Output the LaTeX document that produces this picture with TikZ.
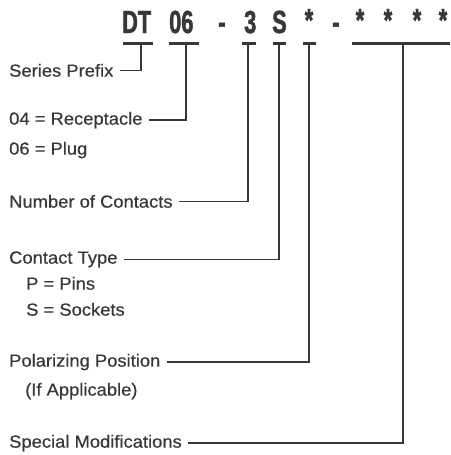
\documentclass[tikz,border=0pt]{standalone}
\usepackage{fontspec}
\setmainfont{Liberation Sans}
\newfontfamily\codefont{Liberation Sans}[FakeStretch=0.68,FakeBold=1.4]
\newfontfamily\lblfont{Liberation Sans}[FakeStretch=1.05,FakeBold=0.4]
\definecolor{inkgray}{RGB}{55,55,55}

\begin{document}
\begin{tikzpicture}[x=1pt,y=-1pt,
    ink/.style={draw=inkgray,line width=1.7pt},
    bar/.style={draw=inkgray,line width=3pt},
    code/.style={text=inkgray,inner sep=0pt,font=\codefont\bfseries\fontsize{32}{32}\selectfont},
    lbl/.style={text=inkgray,inner sep=0pt,anchor=mid west,font=\lblfont\fontsize{17.5}{19}\selectfont}]

    \useasboundingbox[fill=white] (0,0) rectangle (450,455);

    % part number
    \node[code,anchor=base west] (dt)   at (122,33) {DT};
    \node[code,anchor=base west] (shell) at (169,33) {06};
    \node[code,anchor=base]      (hyA)  at (222,33) {-};
    \node[code,anchor=base west] (cnt)  at (244,33) {3};
    \node[code,anchor=base west] (typ)  at (272,33) {S};
    \node[code,anchor=base]      (pol)  at (309,31) {*};
    \node[code,anchor=base]      (hyB)  at (336,33) {-};
    \foreach \x/\n in {360/1,388/2,417/3,443/4}
        \node[code,anchor=base] (mod\n) at (\x,31) {*};

    % bars under the code
    \draw[bar] (123,43) -- (153,43);
    \draw[bar] (169,43) -- (199,43);
    \draw[bar] (242,43) -- (256,43);
    \draw[bar] (273,43) -- (286,43);
    \draw[bar] (303,43) -- (316,43);
    \draw[bar] (352,43) -- (450,43);

    \coordinate (dtB)  at (141,43);
    \coordinate (shB)  at (186,43);
    \coordinate (cntB) at (248,43);
    \coordinate (typB) at (279,43);
    \coordinate (polB) at (309,43);
    \coordinate (modB) at (403,43);

    % labels
    \node[lbl] (pfx)  at (9,74)  {Series Prefix};
    \node[lbl] (rcp)  at (9,122) {04 = Receptacle};
    \node[lbl] (plg)  at (9,152) {06 = Plug};
    \node[lbl] (noc)  at (9,205) {Number of Contacts};
    \node[lbl] (ctt)  at (9,261) {Contact Type};
    \node[lbl] (pin)  at (26,287) {P = Pins};
    \node[lbl] (skt)  at (26,313) {S = Sockets};
    \node[lbl] (ppos) at (9,364) {Polarizing Position};
    \node[lbl] (appl) at (25,393) {(If Applicable)};
    \node[lbl] (spm)  at (9,445) {Special Modifications};

    % leaders
    \draw[ink] (dtB)  |- ([xshift=6pt]pfx.east);
    \draw[ink] (shB)  |- ([xshift=6pt]rcp.east);
    \draw[ink] (cntB) |- ([xshift=6pt]noc.east);
    \draw[ink] (typB) |- ([xshift=6pt]ctt.east);
    \draw[ink] (polB) |- ([xshift=6pt]ppos.east);
    \draw[ink] (modB) |- ([xshift=6pt]spm.east);
\end{tikzpicture}
\end{document}
